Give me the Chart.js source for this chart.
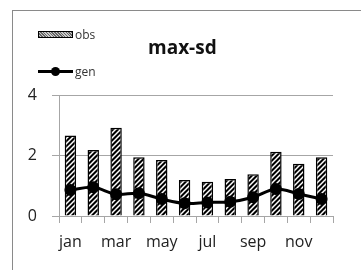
<!DOCTYPE html>
<html>
<head>
<meta charset="utf-8">
<script src="https://cdn.jsdelivr.net/npm/chart.js@4"></script>
<style>
  body { margin: 0; background: #fff; }
  #wrap { position: relative; width: 361px; height: 270px; overflow: hidden; font-family: "Open Sans", sans-serif; }
  #frame { position: absolute; left: 12px; top: 10px; width: 400px; height: 300px; border-left: 1px solid #8a8a8a; border-top: 1px solid #8a8a8a; }
  #title { position: absolute; left: 148px; top: 34px; font-size: 19px; font-weight: bold; color: #111; }
  .leg { position: absolute; left: 38px; font-size: 12px; color: #333; height: 14px; line-height: 14px; }
  .leg span { display: inline-block; vertical-align: middle; }
  #swatch { width: 33px; height: 5px; border: 1px solid #000; background: repeating-linear-gradient(45deg, #666 0 1px, #ccc 1px 2px); margin-right: 2px; }
  #lineSw { position: relative; width: 35px; height: 3px; background: #000; margin-right: 2px; }
  #lineSw:after { content: ""; position: absolute; left: 13px; top: -3px; width: 9px; height: 9px; border-radius: 50%; background: #000; }
  canvas { position: absolute; left: 0; top: 0; }
</style>
</head>
<body>
<div id="wrap">
  <div id="frame"></div>
  <canvas id="chart" width="361" height="270"></canvas>
  <div id="title">max-sd</div>
  <div class="leg" style="top:27px"><span id="swatch"></span><span>obs</span></div>
  <div class="leg" style="top:64px"><span id="lineSw"></span><span>gen</span></div>
</div>
<script>
var months = ['jan', 'feb', 'mar', 'apr', 'may', 'jun', 'jul', 'aug', 'sep', 'oct', 'nov', 'dec'];
var obs = [2.66, 2.18, 2.92, 1.94, 1.85, 1.19, 1.13, 1.22, 1.38, 2.12, 1.73, 1.94];
var gen = [0.86, 0.95, 0.72, 0.75, 0.56, 0.42, 0.45, 0.47, 0.62, 0.89, 0.73, 0.56];
var yTicks = [0, 2, 4];

// hatch fill for the obs bars
function makeHatch() {
  var c = document.createElement('canvas');
  c.width = 5; c.height = 5;
  var g = c.getContext('2d');
  g.fillStyle = '#000';
  g.fillRect(0, 0, 5, 5);
  g.strokeStyle = '#fff';
  g.lineWidth = 1.5;
  g.beginPath();
  g.moveTo(-1, 6); g.lineTo(6, -1);
  g.moveTo(-1, 1); g.lineTo(1, -1);
  g.moveTo(4, 6); g.lineTo(6, 4);
  g.stroke();
  return g.createPattern(c, 'repeat');
}

var gridGrey = '#a6a6a6';

new Chart(document.getElementById('chart'), {
  type: 'bar',
  data: {
    labels: months,
    datasets: [
      {
        type: 'line',
        label: 'gen',
        data: gen,
        borderColor: '#000',
        backgroundColor: '#000',
        borderWidth: 3,
        pointRadius: 4.5,
        pointBackgroundColor: '#000',
        tension: 0.35,
        order: 0
      },
      {
        label: 'obs',
        data: obs,
        backgroundColor: makeHatch(),
        borderColor: '#000',
        borderWidth: 1.5,
        categoryPercentage: 1,
        barPercentage: 0.5,
        order: 1
      }
    ]
  },
  options: {
    responsive: false,
    animation: false,
    layout: { padding: { top: 95, right: 28, left: 0, bottom: 0 } },
    plugins: { legend: { display: false }, title: { display: false }, tooltip: { enabled: false } },
    scales: {
      x: {
        grid: { display: true, drawOnChartArea: false, tickLength: 7, color: gridGrey, offset: true },
        border: { display: true, color: gridGrey },
        ticks: {
          autoSkip: false,
          maxRotation: 0,
          padding: 10,
          color: '#222',
          font: { family: 'Open Sans', size: 16 },
          callback: function(v, i) { return i % 2 === 0 ? months[i] : ''; }
        },
        afterFit: function(s) { s.height = 54; }
      },
      y: {
        min: 0,
        max: 4,
        afterBuildTicks: function(s) { s.ticks = yTicks.map(function(v) { return { value: v }; }); },
        grid: { color: gridGrey, tickLength: 7 },
        border: { display: true, color: gridGrey },
        ticks: { padding: 15, color: '#222', font: { family: 'Open Sans', size: 16 } },
        afterFit: function(s) { s.width = 59; }
      }
    }
  }
});
</script>
</body>
</html>
